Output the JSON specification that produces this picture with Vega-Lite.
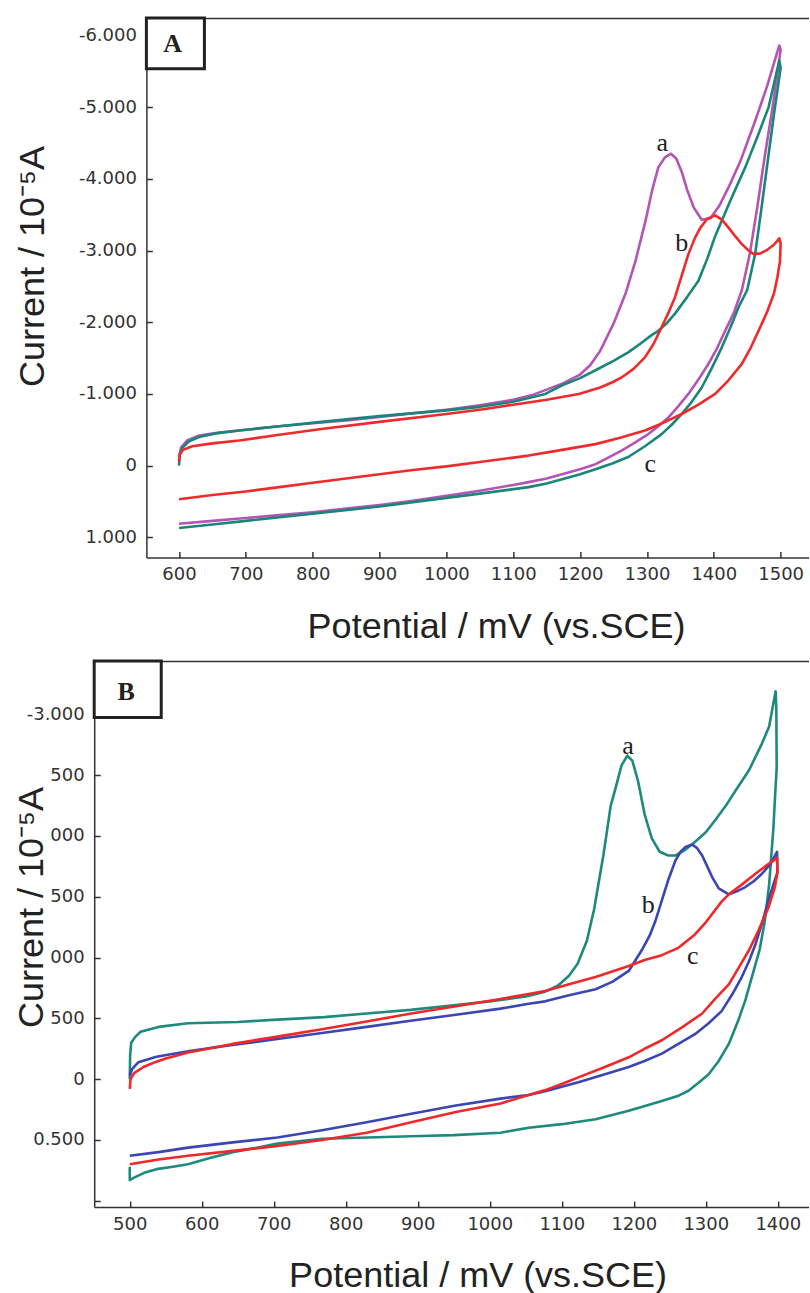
{
  "$schema": "https://vega.github.io/schema/vega-lite/v6.json",
  "background": "white",
  "padding": {"left": 13.2, "top": 16, "right": 0, "bottom": 0},
  "spacing": 15,
  "config": {"view": {"stroke": null}, "axis": {"grid": false}},
  "resolve": {"scale": {"color": "independent"}},
  "datasets": {
    "A_lines": [
      {"curve":"a","i":1,"mV":600,"v":-0.12},{"curve":"a","i":2,"mV":603,"v":-0.25},{"curve":"a","i":3,"mV":612,"v":-0.35},{"curve":"a","i":4,"mV":630,"v":-0.42},{"curve":"a","i":5,"mV":660,"v":-0.46},{"curve":"a","i":6,"mV":700,"v":-0.5},{"curve":"a","i":7,"mV":750,"v":-0.55},{"curve":"a","i":8,"mV":800,"v":-0.59},{"curve":"a","i":9,"mV":850,"v":-0.63},{"curve":"a","i":10,"mV":900,"v":-0.68},{"curve":"a","i":11,"mV":950,"v":-0.73},{"curve":"a","i":12,"mV":1000,"v":-0.78},{"curve":"a","i":13,"mV":1050,"v":-0.84},{"curve":"a","i":14,"mV":1100,"v":-0.92},{"curve":"a","i":15,"mV":1130,"v":-0.99},{"curve":"a","i":16,"mV":1150,"v":-1.06},{"curve":"a","i":17,"mV":1175,"v":-1.15},{"curve":"a","i":18,"mV":1200,"v":-1.27},{"curve":"a","i":19,"mV":1215,"v":-1.4},{"curve":"a","i":20,"mV":1230,"v":-1.6},{"curve":"a","i":21,"mV":1250,"v":-1.98},{"curve":"a","i":22,"mV":1268,"v":-2.4},{"curve":"a","i":23,"mV":1283,"v":-2.86},{"curve":"a","i":24,"mV":1298,"v":-3.42},{"curve":"a","i":25,"mV":1308,"v":-3.85},{"curve":"a","i":26,"mV":1317,"v":-4.16},{"curve":"a","i":27,"mV":1327,"v":-4.3},{"curve":"a","i":28,"mV":1336,"v":-4.35},{"curve":"a","i":29,"mV":1344,"v":-4.28},{"curve":"a","i":30,"mV":1352,"v":-4.1},{"curve":"a","i":31,"mV":1360,"v":-3.85},{"curve":"a","i":32,"mV":1370,"v":-3.6},{"curve":"a","i":33,"mV":1382,"v":-3.43},{"curve":"a","i":34,"mV":1395,"v":-3.45},{"curve":"a","i":35,"mV":1408,"v":-3.62},{"curve":"a","i":36,"mV":1422,"v":-3.88},{"curve":"a","i":37,"mV":1440,"v":-4.25},{"curve":"a","i":38,"mV":1462,"v":-4.81},{"curve":"a","i":39,"mV":1480,"v":-5.3},{"curve":"a","i":40,"mV":1498,"v":-5.86},{"curve":"a","i":41,"mV":1500,"v":-5.8},{"curve":"a","i":42,"mV":1488,"v":-5.0},{"curve":"a","i":43,"mV":1476,"v":-4.3},{"curve":"a","i":44,"mV":1465,"v":-3.6},{"curve":"a","i":45,"mV":1454,"v":-2.96},{"curve":"a","i":46,"mV":1442,"v":-2.45},{"curve":"a","i":47,"mV":1430,"v":-2.13},{"curve":"a","i":48,"mV":1417,"v":-1.88},{"curve":"a","i":49,"mV":1405,"v":-1.64},{"curve":"a","i":50,"mV":1392,"v":-1.42},{"curve":"a","i":51,"mV":1377,"v":-1.2},{"curve":"a","i":52,"mV":1362,"v":-1.0},{"curve":"a","i":53,"mV":1347,"v":-0.83},{"curve":"a","i":54,"mV":1332,"v":-0.67},{"curve":"a","i":55,"mV":1317,"v":-0.55},{"curve":"a","i":56,"mV":1302,"v":-0.44},{"curve":"a","i":57,"mV":1282,"v":-0.32},{"curve":"a","i":58,"mV":1262,"v":-0.21},{"curve":"a","i":59,"mV":1240,"v":-0.1},{"curve":"a","i":60,"mV":1223,"v":-0.02},{"curve":"a","i":61,"mV":1200,"v":0.05},{"curve":"a","i":62,"mV":1173,"v":0.12},{"curve":"a","i":63,"mV":1150,"v":0.18},{"curve":"a","i":64,"mV":1123,"v":0.23},{"curve":"a","i":65,"mV":1100,"v":0.27},{"curve":"a","i":66,"mV":1050,"v":0.35},{"curve":"a","i":67,"mV":1000,"v":0.42},{"curve":"a","i":68,"mV":950,"v":0.49},{"curve":"a","i":69,"mV":900,"v":0.55},{"curve":"a","i":70,"mV":850,"v":0.6},{"curve":"a","i":71,"mV":800,"v":0.65},{"curve":"a","i":72,"mV":750,"v":0.69},{"curve":"a","i":73,"mV":700,"v":0.73},{"curve":"a","i":74,"mV":650,"v":0.77},{"curve":"a","i":75,"mV":600,"v":0.81},
      {"curve":"c","i":1,"mV":600,"v":0.0},{"curve":"c","i":2,"mV":601,"v":-0.15},{"curve":"c","i":3,"mV":605,"v":-0.25},{"curve":"c","i":4,"mV":615,"v":-0.34},{"curve":"c","i":5,"mV":630,"v":-0.4},{"curve":"c","i":6,"mV":655,"v":-0.45},{"curve":"c","i":7,"mV":690,"v":-0.49},{"curve":"c","i":8,"mV":750,"v":-0.55},{"curve":"c","i":9,"mV":813,"v":-0.61},{"curve":"c","i":10,"mV":900,"v":-0.69},{"curve":"c","i":11,"mV":1000,"v":-0.77},{"curve":"c","i":12,"mV":1050,"v":-0.82},{"curve":"c","i":13,"mV":1100,"v":-0.89},{"curve":"c","i":14,"mV":1148,"v":-1.0},{"curve":"c","i":15,"mV":1173,"v":-1.12},{"curve":"c","i":16,"mV":1200,"v":-1.22},{"curve":"c","i":17,"mV":1223,"v":-1.33},{"curve":"c","i":18,"mV":1250,"v":-1.46},{"curve":"c","i":19,"mV":1272,"v":-1.58},{"curve":"c","i":20,"mV":1290,"v":-1.7},{"curve":"c","i":21,"mV":1307,"v":-1.82},{"curve":"c","i":22,"mV":1317,"v":-1.88},{"curve":"c","i":23,"mV":1330,"v":-1.99},{"curve":"c","i":24,"mV":1342,"v":-2.12},{"curve":"c","i":25,"mV":1360,"v":-2.35},{"curve":"c","i":26,"mV":1377,"v":-2.58},{"curve":"c","i":27,"mV":1390,"v":-2.88},{"curve":"c","i":28,"mV":1402,"v":-3.2},{"curve":"c","i":29,"mV":1425,"v":-3.7},{"curve":"c","i":30,"mV":1447,"v":-4.16},{"curve":"c","i":31,"mV":1465,"v":-4.58},{"curve":"c","i":32,"mV":1482,"v":-5.0},{"curve":"c","i":33,"mV":1498,"v":-5.65},{"curve":"c","i":34,"mV":1500,"v":-5.55},{"curve":"c","i":35,"mV":1490,"v":-4.9},{"curve":"c","i":36,"mV":1480,"v":-4.2},{"curve":"c","i":37,"mV":1470,"v":-3.5},{"curve":"c","i":38,"mV":1462,"v":-2.96},{"curve":"c","i":39,"mV":1450,"v":-2.45},{"curve":"c","i":40,"mV":1437,"v":-2.21},{"curve":"c","i":41,"mV":1425,"v":-1.93},{"curve":"c","i":42,"mV":1412,"v":-1.65},{"curve":"c","i":43,"mV":1397,"v":-1.36},{"curve":"c","i":44,"mV":1382,"v":-1.09},{"curve":"c","i":45,"mV":1367,"v":-0.89},{"curve":"c","i":46,"mV":1352,"v":-0.72},{"curve":"c","i":47,"mV":1337,"v":-0.57},{"curve":"c","i":48,"mV":1322,"v":-0.44},{"curve":"c","i":49,"mV":1297,"v":-0.27},{"curve":"c","i":50,"mV":1272,"v":-0.12},{"curve":"c","i":51,"mV":1248,"v":-0.03},{"curve":"c","i":52,"mV":1223,"v":0.05},{"curve":"c","i":53,"mV":1200,"v":0.12},{"curve":"c","i":54,"mV":1173,"v":0.19},{"curve":"c","i":55,"mV":1150,"v":0.25},{"curve":"c","i":56,"mV":1123,"v":0.3},{"curve":"c","i":57,"mV":1050,"v":0.39},{"curve":"c","i":58,"mV":1000,"v":0.45},{"curve":"c","i":59,"mV":900,"v":0.57},{"curve":"c","i":60,"mV":800,"v":0.67},{"curve":"c","i":61,"mV":700,"v":0.77},{"curve":"c","i":62,"mV":650,"v":0.82},{"curve":"c","i":63,"mV":600,"v":0.87},
      {"curve":"b","i":1,"mV":600,"v":-0.06},{"curve":"b","i":2,"mV":601,"v":-0.15},{"curve":"b","i":3,"mV":606,"v":-0.22},{"curve":"b","i":4,"mV":620,"v":-0.27},{"curve":"b","i":5,"mV":650,"v":-0.31},{"curve":"b","i":6,"mV":690,"v":-0.35},{"curve":"b","i":7,"mV":750,"v":-0.43},{"curve":"b","i":8,"mV":813,"v":-0.51},{"curve":"b","i":9,"mV":900,"v":-0.61},{"curve":"b","i":10,"mV":1000,"v":-0.72},{"curve":"b","i":11,"mV":1050,"v":-0.78},{"curve":"b","i":12,"mV":1100,"v":-0.85},{"curve":"b","i":13,"mV":1150,"v":-0.92},{"curve":"b","i":14,"mV":1198,"v":-1.0},{"curve":"b","i":15,"mV":1230,"v":-1.09},{"curve":"b","i":16,"mV":1250,"v":-1.17},{"curve":"b","i":17,"mV":1262,"v":-1.23},{"curve":"b","i":18,"mV":1280,"v":-1.35},{"curve":"b","i":19,"mV":1297,"v":-1.51},{"curve":"b","i":20,"mV":1310,"v":-1.7},{"curve":"b","i":21,"mV":1322,"v":-1.93},{"curve":"b","i":22,"mV":1332,"v":-2.13},{"curve":"b","i":23,"mV":1342,"v":-2.35},{"curve":"b","i":24,"mV":1352,"v":-2.65},{"curve":"b","i":25,"mV":1362,"v":-2.95},{"curve":"b","i":26,"mV":1372,"v":-3.18},{"curve":"b","i":27,"mV":1380,"v":-3.32},{"curve":"b","i":28,"mV":1390,"v":-3.44},{"curve":"b","i":29,"mV":1402,"v":-3.49},{"curve":"b","i":30,"mV":1412,"v":-3.43},{"curve":"b","i":31,"mV":1422,"v":-3.32},{"curve":"b","i":32,"mV":1432,"v":-3.2},{"curve":"b","i":33,"mV":1442,"v":-3.09},{"curve":"b","i":34,"mV":1452,"v":-3.0},{"curve":"b","i":35,"mV":1460,"v":-2.95},{"curve":"b","i":36,"mV":1470,"v":-2.96},{"curve":"b","i":37,"mV":1480,"v":-3.01},{"curve":"b","i":38,"mV":1490,"v":-3.08},{"curve":"b","i":39,"mV":1498,"v":-3.17},{"curve":"b","i":40,"mV":1500,"v":-3.1},{"curve":"b","i":41,"mV":1499,"v":-2.85},{"curve":"b","i":42,"mV":1495,"v":-2.62},{"curve":"b","i":43,"mV":1490,"v":-2.4},{"curve":"b","i":44,"mV":1480,"v":-2.15},{"curve":"b","i":45,"mV":1467,"v":-1.88},{"curve":"b","i":46,"mV":1455,"v":-1.64},{"curve":"b","i":47,"mV":1442,"v":-1.42},{"curve":"b","i":48,"mV":1422,"v":-1.19},{"curve":"b","i":49,"mV":1402,"v":-1.0},{"curve":"b","i":50,"mV":1377,"v":-0.85},{"curve":"b","i":51,"mV":1352,"v":-0.72},{"curve":"b","i":52,"mV":1325,"v":-0.6},{"curve":"b","i":53,"mV":1297,"v":-0.49},{"curve":"b","i":54,"mV":1260,"v":-0.39},{"curve":"b","i":55,"mV":1223,"v":-0.3},{"curve":"b","i":56,"mV":1173,"v":-0.22},{"curve":"b","i":57,"mV":1123,"v":-0.14},{"curve":"b","i":58,"mV":1050,"v":-0.05},{"curve":"b","i":59,"mV":1000,"v":0.01},{"curve":"b","i":60,"mV":950,"v":0.06},{"curve":"b","i":61,"mV":900,"v":0.12},{"curve":"b","i":62,"mV":850,"v":0.18},{"curve":"b","i":63,"mV":800,"v":0.24},{"curve":"b","i":64,"mV":750,"v":0.3},{"curve":"b","i":65,"mV":700,"v":0.36},{"curve":"b","i":66,"mV":650,"v":0.41},{"curve":"b","i":67,"mV":600,"v":0.47}
    ],
    "B_lines": [
      {"curve":"a","i":1,"mV":500,"v":0.0},{"curve":"a","i":2,"mV":500.5,"v":-0.2},{"curve":"a","i":3,"mV":502,"v":-0.3},{"curve":"a","i":4,"mV":508,"v":-0.35},{"curve":"a","i":5,"mV":515,"v":-0.39},{"curve":"a","i":6,"mV":540,"v":-0.43},{"curve":"a","i":7,"mV":581,"v":-0.46},{"curve":"a","i":8,"mV":650,"v":-0.47},{"curve":"a","i":9,"mV":705,"v":-0.49},{"curve":"a","i":10,"mV":770,"v":-0.51},{"curve":"a","i":11,"mV":829,"v":-0.54},{"curve":"a","i":12,"mV":890,"v":-0.57},{"curve":"a","i":13,"mV":953,"v":-0.61},{"curve":"a","i":14,"mV":1000,"v":-0.64},{"curve":"a","i":15,"mV":1050,"v":-0.68},{"curve":"a","i":16,"mV":1077,"v":-0.72},{"curve":"a","i":17,"mV":1095,"v":-0.77},{"curve":"a","i":18,"mV":1110,"v":-0.85},{"curve":"a","i":19,"mV":1122,"v":-0.95},{"curve":"a","i":20,"mV":1135,"v":-1.14},{"curve":"a","i":21,"mV":1145,"v":-1.4},{"curve":"a","i":22,"mV":1158,"v":-1.85},{"curve":"a","i":23,"mV":1168,"v":-2.25},{"curve":"a","i":24,"mV":1175,"v":-2.4},{"curve":"a","i":25,"mV":1183,"v":-2.58},{"curve":"a","i":26,"mV":1191,"v":-2.66},{"curve":"a","i":27,"mV":1198,"v":-2.62},{"curve":"a","i":28,"mV":1206,"v":-2.45},{"curve":"a","i":29,"mV":1215,"v":-2.18},{"curve":"a","i":30,"mV":1225,"v":-1.98},{"curve":"a","i":31,"mV":1236,"v":-1.87},{"curve":"a","i":32,"mV":1248,"v":-1.84},{"curve":"a","i":33,"mV":1258,"v":-1.84},{"curve":"a","i":34,"mV":1270,"v":-1.88},{"curve":"a","i":35,"mV":1281,"v":-1.93},{"curve":"a","i":36,"mV":1300,"v":-2.03},{"curve":"a","i":37,"mV":1313,"v":-2.13},{"curve":"a","i":38,"mV":1328,"v":-2.25},{"curve":"a","i":39,"mV":1341,"v":-2.37},{"curve":"a","i":40,"mV":1360,"v":-2.54},{"curve":"a","i":41,"mV":1378,"v":-2.76},{"curve":"a","i":42,"mV":1388,"v":-2.9},{"curve":"a","i":43,"mV":1397,"v":-3.19},{"curve":"a","i":44,"mV":1398,"v":-3.05},{"curve":"a","i":45,"mV":1398.5,"v":-2.56},{"curve":"a","i":46,"mV":1396,"v":-2.3},{"curve":"a","i":47,"mV":1394,"v":-2.07},{"curve":"a","i":48,"mV":1388,"v":-1.6},{"curve":"a","i":49,"mV":1382,"v":-1.3},{"curve":"a","i":50,"mV":1375,"v":-1.07},{"curve":"a","i":51,"mV":1366,"v":-0.88},{"curve":"a","i":52,"mV":1355,"v":-0.65},{"curve":"a","i":53,"mV":1345,"v":-0.48},{"curve":"a","i":54,"mV":1332,"v":-0.29},{"curve":"a","i":55,"mV":1318,"v":-0.15},{"curve":"a","i":56,"mV":1304,"v":-0.04},{"curve":"a","i":57,"mV":1290,"v":0.03},{"curve":"a","i":58,"mV":1276,"v":0.095},{"curve":"a","i":59,"mV":1263,"v":0.134},{"curve":"a","i":60,"mV":1239,"v":0.18},{"curve":"a","i":61,"mV":1193,"v":0.26},{"curve":"a","i":62,"mV":1147,"v":0.33},{"curve":"a","i":63,"mV":1100,"v":0.37},{"curve":"a","i":64,"mV":1054,"v":0.4},{"curve":"a","i":65,"mV":1015,"v":0.44},{"curve":"a","i":66,"mV":950,"v":0.46},{"curve":"a","i":67,"mV":891,"v":0.47},{"curve":"a","i":68,"mV":830,"v":0.48},{"curve":"a","i":69,"mV":767,"v":0.49},{"curve":"a","i":70,"mV":705,"v":0.53},{"curve":"a","i":71,"mV":680,"v":0.56},{"curve":"a","i":72,"mV":643,"v":0.6},{"curve":"a","i":73,"mV":610,"v":0.65},{"curve":"a","i":74,"mV":581,"v":0.7},{"curve":"a","i":75,"mV":560,"v":0.72},{"curve":"a","i":76,"mV":537,"v":0.74},{"curve":"a","i":77,"mV":520,"v":0.77},{"curve":"a","i":78,"mV":506,"v":0.81},{"curve":"a","i":79,"mV":500,"v":0.83},{"curve":"a","i":80,"mV":500,"v":0.72},
      {"curve":"b","i":1,"mV":500,"v":-0.03},{"curve":"b","i":2,"mV":503,"v":-0.08},{"curve":"b","i":3,"mV":512,"v":-0.14},{"curve":"b","i":4,"mV":537,"v":-0.185},{"curve":"b","i":5,"mV":581,"v":-0.23},{"curve":"b","i":6,"mV":640,"v":-0.28},{"curve":"b","i":7,"mV":705,"v":-0.33},{"curve":"b","i":8,"mV":767,"v":-0.38},{"curve":"b","i":9,"mV":829,"v":-0.43},{"curve":"b","i":10,"mV":890,"v":-0.48},{"curve":"b","i":11,"mV":953,"v":-0.53},{"curve":"b","i":12,"mV":1015,"v":-0.58},{"curve":"b","i":13,"mV":1054,"v":-0.62},{"curve":"b","i":14,"mV":1077,"v":-0.64},{"curve":"b","i":15,"mV":1110,"v":-0.69},{"curve":"b","i":16,"mV":1147,"v":-0.74},{"curve":"b","i":17,"mV":1170,"v":-0.8},{"curve":"b","i":18,"mV":1193,"v":-0.89},{"curve":"b","i":19,"mV":1211,"v":-1.06},{"curve":"b","i":20,"mV":1222,"v":-1.18},{"curve":"b","i":21,"mV":1230,"v":-1.3},{"curve":"b","i":22,"mV":1239,"v":-1.47},{"curve":"b","i":23,"mV":1248,"v":-1.64},{"curve":"b","i":24,"mV":1258,"v":-1.8},{"curve":"b","i":25,"mV":1265,"v":-1.87},{"curve":"b","i":26,"mV":1272,"v":-1.91},{"curve":"b","i":27,"mV":1281,"v":-1.93},{"curve":"b","i":28,"mV":1288,"v":-1.9},{"curve":"b","i":29,"mV":1295,"v":-1.84},{"curve":"b","i":30,"mV":1302,"v":-1.75},{"curve":"b","i":31,"mV":1309,"v":-1.66},{"curve":"b","i":32,"mV":1318,"v":-1.57},{"curve":"b","i":33,"mV":1332,"v":-1.52},{"curve":"b","i":34,"mV":1345,"v":-1.55},{"curve":"b","i":35,"mV":1355,"v":-1.58},{"curve":"b","i":36,"mV":1367,"v":-1.63},{"curve":"b","i":37,"mV":1378,"v":-1.69},{"curve":"b","i":38,"mV":1390,"v":-1.77},{"curve":"b","i":39,"mV":1399,"v":-1.87},{"curve":"b","i":40,"mV":1399.5,"v":-1.7},{"curve":"b","i":41,"mV":1395,"v":-1.62},{"curve":"b","i":42,"mV":1387,"v":-1.47},{"curve":"b","i":43,"mV":1378,"v":-1.28},{"curve":"b","i":44,"mV":1369,"v":-1.11},{"curve":"b","i":45,"mV":1360,"v":-0.97},{"curve":"b","i":46,"mV":1350,"v":-0.84},{"curve":"b","i":47,"mV":1337,"v":-0.7},{"curve":"b","i":48,"mV":1322,"v":-0.56},{"curve":"b","i":49,"mV":1304,"v":-0.46},{"curve":"b","i":50,"mV":1285,"v":-0.37},{"curve":"b","i":51,"mV":1262,"v":-0.29},{"curve":"b","i":52,"mV":1239,"v":-0.21},{"curve":"b","i":53,"mV":1215,"v":-0.15},{"curve":"b","i":54,"mV":1193,"v":-0.1},{"curve":"b","i":55,"mV":1160,"v":-0.04},{"curve":"b","i":56,"mV":1123,"v":0.026},{"curve":"b","i":57,"mV":1077,"v":0.1},{"curve":"b","i":58,"mV":1054,"v":0.13},{"curve":"b","i":59,"mV":1015,"v":0.16},{"curve":"b","i":60,"mV":953,"v":0.217},{"curve":"b","i":61,"mV":891,"v":0.285},{"curve":"b","i":62,"mV":829,"v":0.355},{"curve":"b","i":63,"mV":767,"v":0.42},{"curve":"b","i":64,"mV":705,"v":0.48},{"curve":"b","i":65,"mV":643,"v":0.52},{"curve":"b","i":66,"mV":581,"v":0.563},{"curve":"b","i":67,"mV":540,"v":0.6},{"curve":"b","i":68,"mV":500,"v":0.63},
      {"curve":"c","i":1,"mV":500,"v":0.08},{"curve":"c","i":2,"mV":501,"v":0.0},{"curve":"c","i":3,"mV":506,"v":-0.05},{"curve":"c","i":4,"mV":519,"v":-0.1},{"curve":"c","i":5,"mV":535,"v":-0.14},{"curve":"c","i":6,"mV":550,"v":-0.17},{"curve":"c","i":7,"mV":581,"v":-0.22},{"curve":"c","i":8,"mV":643,"v":-0.29},{"curve":"c","i":9,"mV":705,"v":-0.35},{"curve":"c","i":10,"mV":767,"v":-0.41},{"curve":"c","i":11,"mV":829,"v":-0.475},{"curve":"c","i":12,"mV":891,"v":-0.54},{"curve":"c","i":13,"mV":953,"v":-0.6},{"curve":"c","i":14,"mV":1015,"v":-0.66},{"curve":"c","i":15,"mV":1054,"v":-0.7},{"curve":"c","i":16,"mV":1077,"v":-0.725},{"curve":"c","i":17,"mV":1110,"v":-0.78},{"curve":"c","i":18,"mV":1147,"v":-0.84},{"curve":"c","i":19,"mV":1193,"v":-0.93},{"curve":"c","i":20,"mV":1215,"v":-0.98},{"curve":"c","i":21,"mV":1239,"v":-1.02},{"curve":"c","i":22,"mV":1262,"v":-1.08},{"curve":"c","i":23,"mV":1285,"v":-1.19},{"curve":"c","i":24,"mV":1300,"v":-1.29},{"curve":"c","i":25,"mV":1322,"v":-1.46},{"curve":"c","i":26,"mV":1332,"v":-1.52},{"curve":"c","i":27,"mV":1350,"v":-1.6},{"curve":"c","i":28,"mV":1369,"v":-1.69},{"curve":"c","i":29,"mV":1385,"v":-1.76},{"curve":"c","i":30,"mV":1399,"v":-1.82},{"curve":"c","i":31,"mV":1399.5,"v":-1.7},{"curve":"c","i":32,"mV":1396,"v":-1.58},{"curve":"c","i":33,"mV":1387,"v":-1.41},{"curve":"c","i":34,"mV":1373,"v":-1.22},{"curve":"c","i":35,"mV":1360,"v":-1.06},{"curve":"c","i":36,"mV":1346,"v":-0.92},{"curve":"c","i":37,"mV":1332,"v":-0.78},{"curve":"c","i":38,"mV":1313,"v":-0.66},{"curve":"c","i":39,"mV":1295,"v":-0.54},{"curve":"c","i":40,"mV":1268,"v":-0.43},{"curve":"c","i":41,"mV":1239,"v":-0.32},{"curve":"c","i":42,"mV":1215,"v":-0.25},{"curve":"c","i":43,"mV":1193,"v":-0.18},{"curve":"c","i":44,"mV":1160,"v":-0.1},{"curve":"c","i":45,"mV":1123,"v":-0.015},{"curve":"c","i":46,"mV":1100,"v":0.04},{"curve":"c","i":47,"mV":1077,"v":0.09},{"curve":"c","i":48,"mV":1054,"v":0.13},{"curve":"c","i":49,"mV":1015,"v":0.2},{"curve":"c","i":50,"mV":953,"v":0.27},{"curve":"c","i":51,"mV":891,"v":0.355},{"curve":"c","i":52,"mV":829,"v":0.44},{"curve":"c","i":53,"mV":767,"v":0.5},{"curve":"c","i":54,"mV":705,"v":0.55},{"curve":"c","i":55,"mV":643,"v":0.59},{"curve":"c","i":56,"mV":581,"v":0.63},{"curve":"c","i":57,"mV":540,"v":0.66},{"curve":"c","i":58,"mV":500,"v":0.7}
    ],
    "A_box": [{"mV":551.2,"mV2":638,"v":-6.243,"v2":-5.535}],
    "A_letter": [{"mV":590.4,"v":-5.89,"lab":"A"}],
    "A_labels": [{"mV":1323,"v":-4.5,"lab":"a"},{"mV":1352,"v":-3.1,"lab":"b"},{"mV":1305,"v":-0.02,"lab":"c"}],
    "B_box": [{"mV":450.6,"mV2":543.7,"v":-3.439,"v2":-2.975}],
    "B_letter": [{"mV":494.9,"v":-3.19,"lab":"B"}],
    "B_labels": [{"mV":1192,"v":-2.74,"lab":"a"},{"mV":1220,"v":-1.43,"lab":"b"},{"mV":1282,"v":-1.01,"lab":"c"}]
  },
  "vconcat": [
    {
      "spacing": 51.2,
      "bounds": "flush",
      "hconcat": [
        {"data": {"values": []}, "mark": "point", "width": 1, "height": 1},
        {
          "width": 662.2,
          "height": 539.4,
          "encoding": {
            "y": {
              "field": "v", "type": "quantitative",
              "scale": {"domain": [-6.243, 1.28], "reverse": true, "nice": false, "zero": false},
              "axis": {
                "values": [-6, -5, -4, -3, -2, -1, 0, 1],
                "labelExpr": "datum.value == 0 ? '0' : (datum.value < 0 ? '-' : '') + format(abs(datum.value), '.3f')",
                "labelFont": "DejaVu Sans", "labelFontSize": 18, "labelColor": "#333", "labelPadding": 16,
                "tickSize": -6, "tickWidth": 1.5, "tickColor": "#333",
                "domainColor": "#333", "domainWidth": 1.5,
                "labelOverlap": false, "labelFlush": false,
                "title": "Current / 10⁻⁵A", "titleFont": "Liberation Sans", "titleFontSize": 36, "titleFontWeight": "normal",
                "titleColor": "#222", "titleAngle": 270, "titleBaseline": "alphabetic", "titleAlign": "center",
                "titleX": -103, "titleY": 248
              }
            }
          },
          "layer": [
            {
              "data": {"name": "A_lines"},
              "mark": {"type": "line", "strokeWidth": 2.6, "strokeJoin": "round"},
              "encoding": {
                "x": {
                  "field": "mV", "type": "quantitative",
                  "scale": {"domain": [551.2, 1541.8], "nice": false, "zero": false},
                  "axis": {
                    "orient": "bottom",
                    "values": [600, 700, 800, 900, 1000, 1100, 1200, 1300, 1400, 1500],
                    "format": "d",
                    "labelFont": "DejaVu Sans", "labelFontSize": 18, "labelColor": "#333", "labelPadding": 14,
                    "tickSize": -6, "tickWidth": 1.5, "tickColor": "#333",
                    "domainColor": "#333", "domainWidth": 1.5,
                    "labelOverlap": false, "labelFlush": false,
                    "title": "Potential / mV (vs.SCE)", "titleFont": "Liberation Sans", "titleFontSize": 36, "titleFontWeight": "normal",
                    "titleColor": "#222", "titleBaseline": "alphabetic", "titleAlign": "center",
                    "titleX": 349.7, "titleY": 79.6
                  }
                },
                "color": {"field": "curve", "type": "nominal", "scale": {"domain": ["a", "b", "c"], "range": ["#b455b6", "#f02a2a", "#1a8579"]}, "legend": null},
                "order": {"field": "i", "type": "quantitative"}
              }
            },
            {
              "data": {"name": "A_box"},
              "mark": {"type": "rect", "fill": "white", "stroke": "#222", "strokeWidth": 3},
              "encoding": {
                "x": {
                  "field": "mV", "type": "quantitative",
                  "scale": {"domain": [551.2, 1541.8], "nice": false, "zero": false},
                  "axis": {"orient": "top", "labels": false, "ticks": false, "domain": true, "domainColor": "#333", "domainWidth": 1.5, "title": null, "grid": false}
                },
                "x2": {"field": "mV2"},
                "y2": {"field": "v2"}
              }
            },
            {
              "data": {"name": "A_letter"},
              "mark": {"type": "text", "font": "Liberation Serif", "fontSize": 26, "fontWeight": "bold", "color": "#222", "align": "center", "baseline": "middle", "dy": 1},
              "encoding": {
                "x": {"field": "mV", "type": "quantitative", "scale": {"domain": [551.2, 1541.8], "nice": false, "zero": false}, "axis": null},
                "text": {"field": "lab"}
              }
            },
            {
              "data": {"name": "A_labels"},
              "mark": {"type": "text", "font": "Liberation Serif", "fontSize": 26, "color": "#222", "align": "center", "baseline": "middle"},
              "encoding": {
                "x": {"field": "mV", "type": "quantitative", "scale": {"domain": [551.2, 1541.8], "nice": false, "zero": false}, "axis": null},
                "text": {"field": "lab"}
              }
            }
          ],
          "resolve": {"axis": {"x": "independent"}}
        }
      ]
    },
    {
      "width": 714.4,
      "height": 546.1,
      "encoding": {
        "y": {
          "field": "v", "type": "quantitative",
          "scale": {"domain": [-3.439, 1.052], "reverse": true, "nice": false, "zero": false},
          "axis": {
            "values": [-3, -2.5, -2, -1.5, -1, -0.5, 0, 0.5, 1],
            "labelExpr": "datum.value == -3 ? '-3.000' : datum.value == 0 ? '0' : datum.value == 0.5 ? '0.500' : datum.value == 1 ? '' : (datum.value == -2 || datum.value == -1) ? '000' : '500'",
            "labelFont": "DejaVu Sans", "labelFontSize": 18, "labelColor": "#333", "labelPadding": 16,
            "tickSize": -6, "tickWidth": 1.5, "tickColor": "#333",
            "domainColor": "#333", "domainWidth": 1.5,
            "labelOverlap": false, "labelFlush": false,
            "title": "Current / 10⁻⁵A", "titleFont": "Liberation Sans", "titleFontSize": 36, "titleFontWeight": "normal",
            "titleColor": "#222", "titleAngle": 270, "titleBaseline": "alphabetic", "titleAlign": "center",
            "titleX": -52, "titleY": 246
          }
        }
      },
      "layer": [
        {
          "data": {"name": "B_lines"},
          "mark": {"type": "line", "strokeWidth": 2.6, "strokeJoin": "round"},
          "encoding": {
            "x": {
              "field": "mV", "type": "quantitative",
              "scale": {"domain": [450.6, 1442.8], "nice": false, "zero": false},
              "axis": {
                "orient": "bottom",
                "values": [500, 600, 700, 800, 900, 1000, 1100, 1200, 1300, 1400],
                "format": "d",
                "labelFont": "DejaVu Sans", "labelFontSize": 18, "labelColor": "#333", "labelPadding": 14,
                "tickSize": -6, "tickWidth": 1.5, "tickColor": "#333",
                "domainColor": "#333", "domainWidth": 1.5,
                "labelOverlap": false, "labelFlush": false,
                "title": "Potential / mV (vs.SCE)", "titleFont": "Liberation Sans", "titleFontSize": 36, "titleFontWeight": "normal",
                "titleColor": "#222", "titleBaseline": "alphabetic", "titleAlign": "center",
                "titleX": 383.4, "titleY": 79.6
              }
            },
            "color": {"field": "curve", "type": "nominal", "scale": {"domain": ["a", "b", "c"], "range": ["#1e8a7e", "#3a46b2", "#f0282a"]}, "legend": null},
            "order": {"field": "i", "type": "quantitative"}
          }
        },
        {
          "data": {"name": "B_box"},
          "mark": {"type": "rect", "fill": "white", "stroke": "#222", "strokeWidth": 3},
          "encoding": {
            "x": {
              "field": "mV", "type": "quantitative",
              "scale": {"domain": [450.6, 1442.8], "nice": false, "zero": false},
              "axis": {"orient": "top", "labels": false, "ticks": false, "domain": true, "domainColor": "#333", "domainWidth": 1.5, "title": null, "grid": false}
            },
            "x2": {"field": "mV2"},
            "y2": {"field": "v2"}
          }
        },
        {
          "data": {"name": "B_letter"},
          "mark": {"type": "text", "font": "Liberation Serif", "fontSize": 26, "fontWeight": "bold", "color": "#222", "align": "center", "baseline": "middle", "dy": 1},
          "encoding": {
            "x": {"field": "mV", "type": "quantitative", "scale": {"domain": [450.6, 1442.8], "nice": false, "zero": false}, "axis": null},
            "text": {"field": "lab"}
          }
        },
        {
          "data": {"name": "B_labels"},
          "mark": {"type": "text", "font": "Liberation Serif", "fontSize": 26, "color": "#222", "align": "center", "baseline": "middle"},
          "encoding": {
            "x": {"field": "mV", "type": "quantitative", "scale": {"domain": [450.6, 1442.8], "nice": false, "zero": false}, "axis": null},
            "text": {"field": "lab"}
          }
        }
      ],
      "resolve": {"axis": {"x": "independent"}}
    }
  ]
}
